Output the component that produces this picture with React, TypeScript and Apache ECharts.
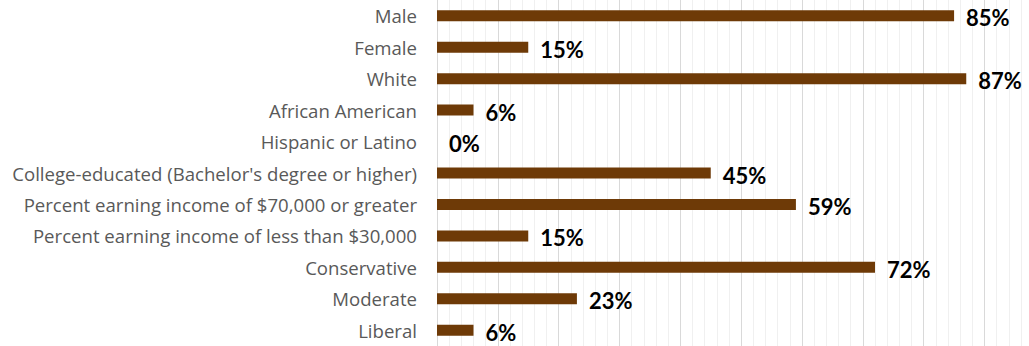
import React, { useEffect, useRef } from "react";
import * as echarts from "echarts";

const categories = [
  "Male",
  "Female",
  "White",
  "African American",
  "Hispanic or Latino",
  "College-educated (Bachelor's degree or higher)",
  "Percent earning income of $70,000 or greater",
  "Percent earning income of less than $30,000",
  "Conservative",
  "Moderate",
  "Liberal",
];
const values = [85, 15, 87, 6, 0, 45, 59, 15, 72, 23, 6];

export default function App() {
  const ref = useRef<HTMLDivElement>(null);
  useEffect(() => {
    if (!ref.current) return;
    const chart = echarts.init(ref.current, null, { renderer: "svg" });
    const gridColors = ["#d9d9d9", "#f0f0f0", "#f0f0f0", "#f0f0f0", "#f0f0f0"];
    chart.setOption({
      animation: false,
      backgroundColor: "#ffffff",
      grid: { left: 437, right: 8, top: 0, bottom: 0, containLabel: false },
      xAxis: {
        type: "value",
        min: 0,
        max: 96,
        interval: 2,
        axisLabel: { show: false },
        axisLine: { show: false },
        axisTick: { show: false },
        splitLine: { show: true, lineStyle: { color: gridColors, width: 1 } },
      },
      yAxis: {
        type: "category",
        data: categories,
        inverse: true,
        axisLine: { show: true, lineStyle: { color: "#d9d9d9", width: 1 } },
        axisTick: { show: false },
        axisLabel: {
          margin: 20,
          color: "#595959",
          fontFamily: "Open Sans",
          fontSize: 18.6,
        },
      },
      series: [
        {
          type: "bar",
          data: values,
          barWidth: 11,
          itemStyle: { color: "#6e3a07" },
          label: {
            show: true,
            position: "right",
            distance: 12,
            offset: [0, 2],
            formatter: "{c}%",
            color: "#000000",
            fontFamily: "Lato",
            fontWeight: "bold",
            fontSize: 22,
          },
        },
      ],
    });
    return () => chart.dispose();
  }, []);
  return (
    <div
      ref={ref}
      style={{ position: "fixed", left: 0, top: 0, width: 1029, height: 346 }}
    />
  );
}
